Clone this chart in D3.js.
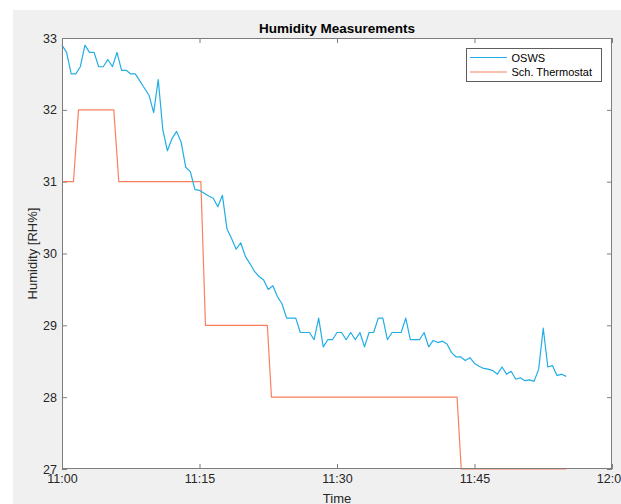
<!DOCTYPE html>
<html>
<head>
<meta charset="utf-8">
<script src="https://cdn.jsdelivr.net/npm/d3@7"></script>
<style>
  html, body { margin: 0; padding: 0; background: #ffffff; }
  svg { display: block; font-family: "Liberation Sans", Arial, Helvetica, sans-serif; }
</style>
</head>
<body>
<svg id="chart" width="621" height="504"></svg>
<script>
// OSWS humidity readings, one every 30 s starting at 11:00
const oswsStartMinute = 0;
const oswsStepMinutes = 0.5;
const oswsValues = [
  32.9, 32.8, 32.5, 32.5, 32.6, 32.9, 32.8, 32.8, 32.6, 32.6,
  32.7, 32.6, 32.8, 32.55, 32.55, 32.5, 32.5, 32.4, 32.3, 32.2,
  31.96, 32.42, 31.72, 31.43, 31.6, 31.7, 31.55, 31.2, 31.14, 30.89,
  30.88, 30.84, 30.8, 30.77, 30.65, 30.81, 30.34, 30.21, 30.06, 30.15,
  29.96, 29.86, 29.75, 29.68, 29.63, 29.5, 29.55, 29.4, 29.3, 29.1,
  29.1, 29.1, 28.9, 28.9, 28.9, 28.8, 29.1, 28.7, 28.8, 28.8,
  28.9, 28.9, 28.8, 28.9, 28.8, 28.9, 28.7, 28.9, 28.9, 29.1,
  29.1, 28.8, 28.9, 28.9, 28.9, 29.1, 28.8, 28.8, 28.8, 28.9,
  28.7, 28.79, 28.76, 28.78, 28.74, 28.62, 28.56, 28.56, 28.51, 28.55,
  28.47, 28.43, 28.4, 28.39, 28.37, 28.32, 28.42, 28.32, 28.36, 28.25,
  28.27, 28.23, 28.24, 28.22, 28.39, 28.96, 28.42, 28.44, 28.3, 28.32,
  28.29
];

// Schneider thermostat readings (minutes after 11:00, %RH)
const thermoMinutes = [0, 1.25, 1.8, 5.65, 6.2, 15.15, 15.65, 22.4, 22.85, 43.1, 43.55, 55];
const thermoValues  = [31, 31, 32, 32, 31, 31, 29, 29, 28, 28, 27, 27];

const yTicks = [27, 28, 29, 30, 31, 32, 33];
const xTickMinutes = [0, 15, 30, 45, 60];

const seriesNames = ["OSWS", "Sch. Thermostat"];
const seriesColors = ["#22ade6", "#f9805e"];

const chartTitle = "Humidity Measurements";
const xTitle = "Time";
const yTitle = "Humidity [RH%]";

// ---- layout ----
const svg = d3.select("#chart");
const W = 621, H = 504;
const plot = { left: 62, right: 612, top: 38, bottom: 469 };

const t0 = new Date(2020, 0, 1, 11, 0, 0);
const toDate = m => new Date(t0.getTime() + m * 60000);

const x = d3.scaleTime()
  .domain([toDate(0), toDate(60)])
  .range([plot.left, plot.right]);
const y = d3.scaleLinear()
  .domain([27, 33])
  .range([plot.bottom, plot.top]);

// figure background
svg.append("rect").attr("x", 0).attr("y", 0).attr("width", W).attr("height", H).attr("fill", "#ffffff");
svg.append("rect").attr("x", 13).attr("y", 10).attr("width", W - 13).attr("height", H - 10).attr("fill", "#f0f0f0");

// axes background
svg.append("rect")
  .attr("x", plot.left).attr("y", plot.top)
  .attr("width", plot.right - plot.left).attr("height", plot.bottom - plot.top)
  .attr("fill", "#ffffff");

const axisColor = "#7d7d7d";
const textColor = "#262626";
const fmt = d3.timeFormat("%H:%M");
const xTickDates = xTickMinutes.map(toDate);

function styleAxis(g) {
  g.select(".domain").remove();
  g.selectAll(".tick line").attr("stroke", axisColor).attr("stroke-width", 1);
  g.selectAll(".tick text").attr("fill", textColor);
}

// bottom axis with labels
svg.append("g")
  .attr("transform", `translate(0,${plot.bottom})`)
  .call(d3.axisBottom(x).tickValues(xTickDates).tickFormat(fmt).tickSizeInner(-5).tickSizeOuter(0).tickPadding(5))
  .call(styleAxis)
  .call(g => g.selectAll(".tick text").attr("font-size", 12.5).attr("font-family", "Liberation Sans, Arial, sans-serif"));

// top axis ticks
svg.append("g")
  .attr("transform", `translate(0,${plot.top})`)
  .call(d3.axisTop(x).tickValues(xTickDates).tickFormat("").tickSizeInner(-5).tickSizeOuter(0))
  .call(styleAxis);

// left axis with labels
svg.append("g")
  .attr("transform", `translate(${plot.left},0)`)
  .call(d3.axisLeft(y).tickValues(yTicks).tickFormat(d3.format("d")).tickSizeInner(-5).tickSizeOuter(0).tickPadding(5))
  .call(styleAxis)
  .call(g => g.selectAll(".tick text").attr("font-size", 12.5).attr("font-family", "Liberation Sans, Arial, sans-serif"));

// right axis ticks
svg.append("g")
  .attr("transform", `translate(${plot.right},0)`)
  .call(d3.axisRight(y).tickValues(yTicks).tickFormat("").tickSizeInner(-5).tickSizeOuter(0))
  .call(styleAxis);

// series
const oswsData = oswsValues.map((v, i) => ({ t: toDate(oswsStartMinute + i * oswsStepMinutes), v }));
const thermoData = thermoMinutes.map((m, i) => ({ t: toDate(m), v: thermoValues[i] }));

const line = d3.line().x(d => x(d.t)).y(d => y(d.v));

svg.append("path")
  .datum(thermoData)
  .attr("d", line)
  .attr("fill", "none")
  .attr("stroke", seriesColors[1])
  .attr("stroke-width", 1.2)
  .attr("stroke-linejoin", "round");

svg.append("path")
  .datum(oswsData)
  .attr("d", line)
  .attr("fill", "none")
  .attr("stroke", seriesColors[0])
  .attr("stroke-width", 1.2)
  .attr("stroke-linejoin", "round");

// axes box
svg.append("rect")
  .attr("x", plot.left + 0.5).attr("y", plot.top + 0.5)
  .attr("width", plot.right - plot.left - 1).attr("height", plot.bottom - plot.top - 1)
  .attr("fill", "none")
  .attr("stroke", axisColor)
  .attr("stroke-width", 1);

// titles
svg.append("text")
  .attr("x", (plot.left + plot.right) / 2)
  .attr("y", 33)
  .attr("text-anchor", "middle")
  .attr("font-size", 13.5)
  .attr("font-weight", "bold")
  .attr("fill", "#000000")
  .text(chartTitle);

svg.append("text")
  .attr("x", (plot.left + plot.right) / 2)
  .attr("y", 503)
  .attr("text-anchor", "middle")
  .attr("font-size", 13)
  .attr("fill", textColor)
  .text(xTitle);

svg.append("text")
  .attr("transform", `translate(37,${(plot.top + plot.bottom) / 2}) rotate(-90)`)
  .attr("text-anchor", "middle")
  .attr("font-size", 13)
  .attr("fill", textColor)
  .text(yTitle);

// legend
const legend = svg.append("g").attr("transform", "translate(466,48)");
legend.append("rect")
  .attr("x", 0.5).attr("y", 0.5)
  .attr("width", 135).attr("height", 33)
  .attr("fill", "#ffffff")
  .attr("stroke", "#5e5e5e")
  .attr("stroke-width", 1);

seriesNames.forEach((name, i) => {
  const ly = 9.5 + i * 14.5;
  legend.append("line")
    .attr("x1", 4).attr("x2", 41)
    .attr("y1", ly).attr("y2", ly)
    .attr("stroke", seriesColors[i])
    .attr("stroke-width", 1.2);
  legend.append("text")
    .attr("x", 45.5).attr("y", ly + 4)
    .attr("font-size", 11)
    .attr("fill", "#000000")
    .text(name);
});
</script>
</body>
</html>
